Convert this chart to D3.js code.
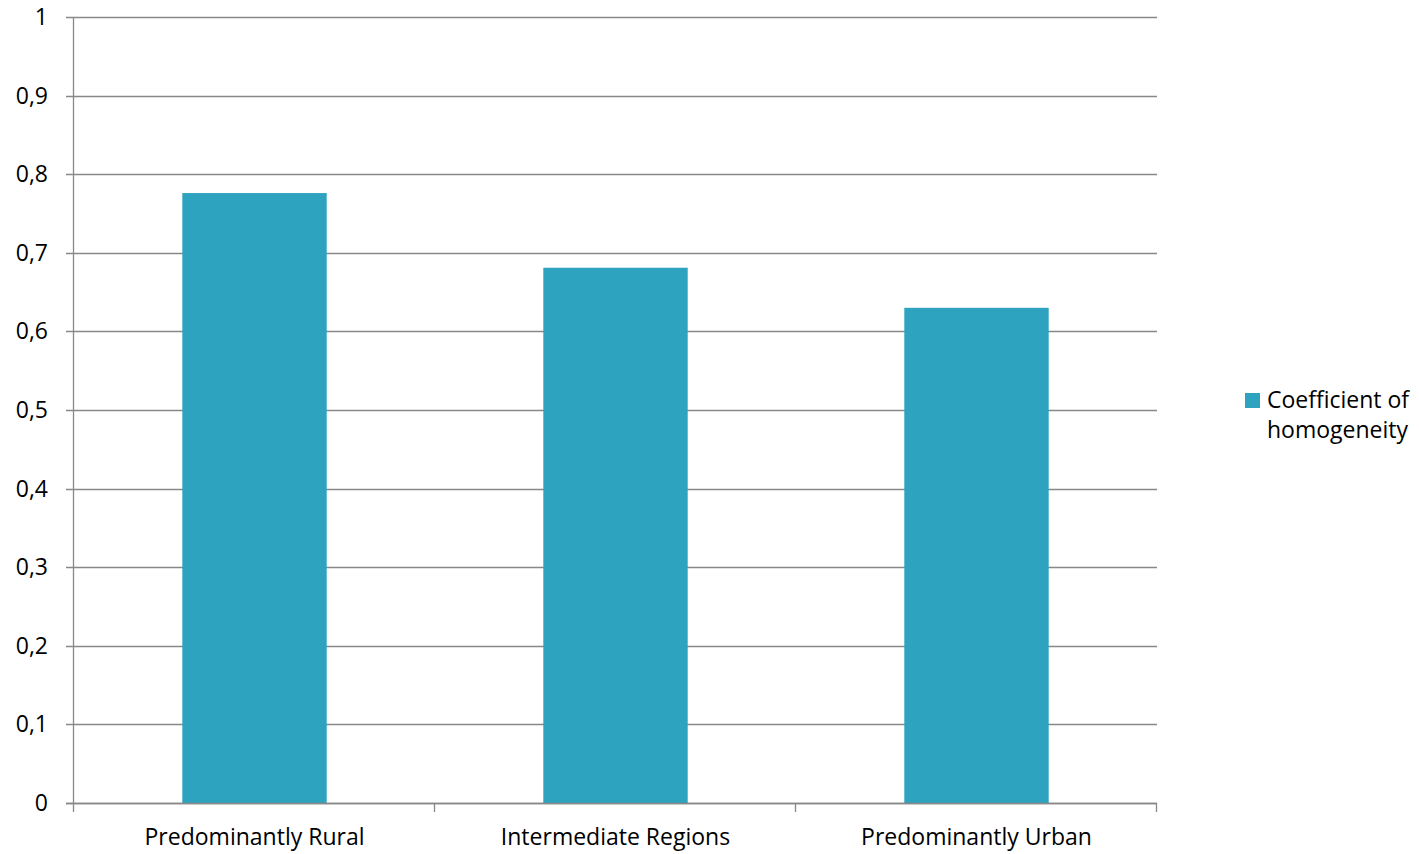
<!DOCTYPE html>
<html>
<head>
<meta charset="utf-8">
<script src="https://cdn.jsdelivr.net/npm/d3@7"></script>
<style>
body { margin: 0; background: #fff; }
text { font-family: "Open Sans", "Noto Sans", sans-serif; fill: #000; }
</style>
</head>
<body>
<div id="chart"></div>
<script>
var categories = ["Predominantly Rural", "Intermediate Regions", "Predominantly Urban"];
var values = [0.776, 0.681, 0.630];
var yTicks = [0, 0.1, 0.2, 0.3, 0.4, 0.5, 0.6, 0.7, 0.8, 0.9, 1];
var seriesName = ["Coefficient of", "homogeneity"];

var width = 1419, height = 854;
var plotLeft = 74, plotRight = 1157, plotTop = 17, plotBottom = 803;
var barColor = "#2ea3bf";
var gridColor = "#888888";
var fontSize = "23px";

var svg = d3.select("#chart")
	.append("svg")
	.attr("width", width)
	.attr("height", height);

var x = d3.scaleBand()
	.domain(categories)
	.range([plotLeft, plotRight])
	.padding(0);

var y = d3.scaleLinear()
	.domain([0, 1])
	.range([plotBottom, plotTop]);

// horizontal gridlines + y ticks
svg.selectAll(".grid")
	.data(yTicks)
	.enter().append("line")
	.attr("x1", plotLeft - 8)
	.attr("x2", plotRight)
	.attr("y1", function(d) { return Math.round(y(d)) + 0.5; })
	.attr("y2", function(d) { return Math.round(y(d)) + 0.5; })
	.style("stroke", gridColor)
	.style("stroke-width", 1.3);

svg.selectAll(".ylab")
	.data(yTicks)
	.enter().append("text")
	.attr("x", plotLeft - 26)
	.attr("y", function(d) { return y(d); })
	.attr("dy", "0.35em")
	.attr("text-anchor", "end")
	.style("font-size", fontSize)
	.text(function(d) { return d3.format(".1~f")(d).replace(".", ","); });

// bars
var barW = x.bandwidth() * 0.4;
svg.selectAll(".bar")
	.data(values)
	.enter().append("rect")
	.attr("x", function(d, i) { return x(categories[i]) + (x.bandwidth() - barW) / 2; })
	.attr("y", function(d) { return y(d); })
	.attr("width", barW)
	.attr("height", function(d) { return plotBottom - y(d); })
	.style("fill", barColor);

// y axis line
svg.append("line")
	.attr("x1", plotLeft - 0.5).attr("x2", plotLeft - 0.5)
	.attr("y1", plotTop).attr("y2", plotBottom)
	.style("stroke", gridColor)
	.style("stroke-width", 1.3);

// x axis line + ticks
svg.append("line")
	.attr("x1", plotLeft - 8).attr("x2", plotRight)
	.attr("y1", plotBottom + 0.5).attr("y2", plotBottom + 0.5)
	.style("stroke", gridColor)
	.style("stroke-width", 1.3);

var xTickPos = categories.map(function(c) { return x(c); }).concat([plotRight]);
svg.selectAll(".xtick")
	.data(xTickPos)
	.enter().append("line")
	.attr("x1", function(d) { return Math.round(d) - 0.5; })
	.attr("x2", function(d) { return Math.round(d) - 0.5; })
	.attr("y1", plotBottom)
	.attr("y2", plotBottom + 9)
	.style("stroke", gridColor)
	.style("stroke-width", 1.3);

svg.selectAll(".xlab")
	.data(categories)
	.enter().append("text")
	.attr("x", function(d) { return x(d) + x.bandwidth() / 2; })
	.attr("y", 845)
	.attr("text-anchor", "middle")
	.style("font-size", fontSize)
	.text(function(d) { return d; });

// legend
svg.append("rect")
	.attr("x", 1245).attr("y", 393)
	.attr("width", 15).attr("height", 15)
	.style("fill", barColor);

svg.selectAll(".leg")
	.data(seriesName)
	.enter().append("text")
	.attr("x", 1267)
	.attr("y", function(d, i) { return 408 + i * 30; })
	.style("font-size", fontSize)
	.text(function(d) { return d; });
</script>
</body>
</html>
